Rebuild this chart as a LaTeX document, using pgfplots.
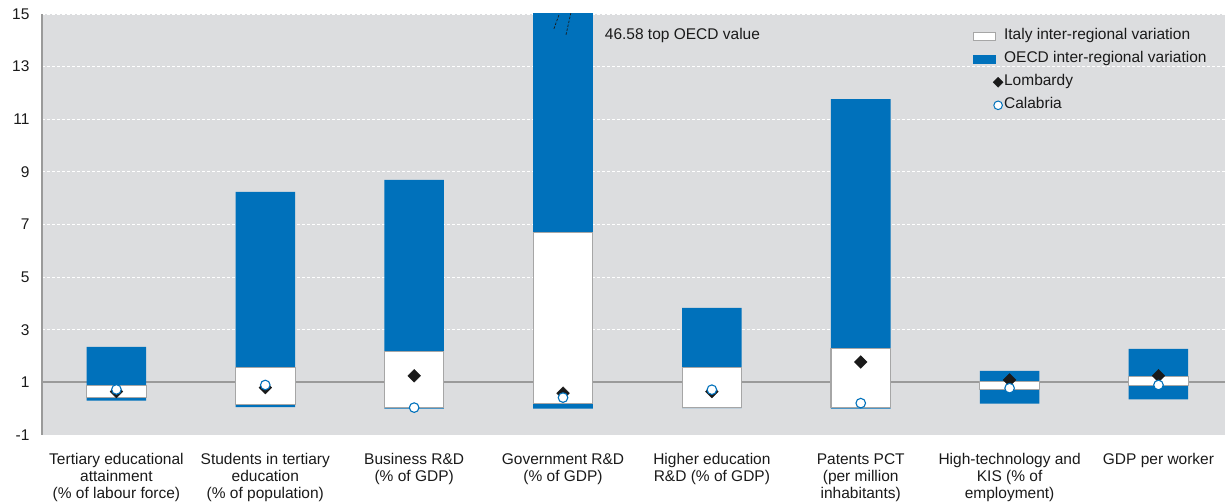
\documentclass[border=0pt]{standalone}
\usepackage{fontspec}
\setmainfont{Liberation Sans}
\usepackage{pgfplots}
\usepackage{pgfplotstable}
\pgfplotsset{compat=1.18}
\definecolor{bg}{HTML}{DCDDDF}
\definecolor{oecd}{HTML}{0071BB}
\definecolor{boxgray}{HTML}{A6A6A6}
\definecolor{refgray}{HTML}{9A9A9A}
\definecolor{txt}{HTML}{1A1A1A}

\pgfplotstableread{
x blo bhi wlo whi lom cal
0 0.31 2.35 0.44 0.88 0.65 0.73
1 0.06 8.24 0.17 1.58 0.80 0.90
2 0.00 8.70 0.04 2.16 1.25 0.04
3 -0.03 46.58 0.21 6.71 0.59 0.42
4 0.02 3.83 0.06 1.58 0.65 0.72
5 -0.02 11.74 0.06 2.30 1.77 0.21
6 0.19 1.44 0.74 1.03 1.09 0.78
7 0.35 2.27 0.88 1.22 1.25 0.90
}\data

\pgfplotsset{common/.style={width=1183bp, height=421bp, scale only axis,
  xmin=-0.5, xmax=7.447, ymin=-1, ymax=15}}
\newcommand{\lf}{\fontsize{15.5bp}{17bp}\selectfont}

\begin{document}
\begin{tikzpicture}
% axis 1: frame, grid, labels, OECD bars
\begin{axis}[common, name=main,
  axis background/.style={fill=bg},
  axis y line*=left, axis x line*=bottom,
  x axis line style={draw=none},
  y axis line style={draw=refgray, line width=1.6bp},
  ytick={-1,3,5,7,9,11,13,15},
  yticklabels={-1,3,5,7,9,11,13,15},
  extra y ticks={1}, extra y tick labels={1},
  extra y tick style={grid=major, major grid style={draw=refgray, solid, line width=1.8bp}},
  xtick={0,...,7},
  xticklabels={{Tertiary educational\\attainment\\(\% of labour force)},
    {Students in tertiary\\education\\(\% of population)},
    {Business R\&D\\(\% of GDP)},
    {Government R\&D\\(\% of GDP)},
    {Higher education\\R\&D (\% of GDP)},
    {Patents PCT\\(per million\\inhabitants)},
    {High-technology and\\KIS (\% of\\employment)},
    {GDP per worker}},
  major tick length=0pt,
  ymajorgrids,
  major grid style={draw=white, dash pattern=on 3bp off 2bp, line width=0.9bp},
  tick label style={font=\lf, text=txt},
  yticklabel style={xshift=-9bp},
  xticklabel style={align=center, anchor=north, yshift=-15bp},
  ybar stacked, bar width=0.4,
]
\addplot[draw=none, fill=none, forget plot] table[x=x, y=blo] {\data};
\addplot[fill=oecd, draw=none, forget plot] table[x=x, y expr=\thisrow{bhi}-\thisrow{blo}] {\data};
\end{axis}
% axis 2: Italy boxes
\begin{axis}[common, hide axis, ybar stacked, bar width=0.4]
\addplot[draw=none, fill=none, forget plot] table[x=x, y=wlo] {\data};
\addplot[fill=white, draw=boxgray, line width=1.1bp, forget plot] table[x=x, y expr=\thisrow{whi}-\thisrow{wlo}] {\data};
\end{axis}
% axis 3: regions, annotation, legend
\begin{axis}[common, hide axis,
  legend style={at={(rel axis cs:0.784,0.97)}, anchor=north west, draw=none, fill=none,
    font=\lf, text=txt, row sep=8bp, cells={anchor=west},
    nodes={inner sep=0pt, text height=11bp, text depth=4bp}},
  legend cell align=left,
]
\draw[txt, dash pattern=on 2.5bp off 1.5bp, line width=0.7bp] (axis cs:2.939,14.44) -- (axis cs:2.973,14.97);
\draw[txt, dash pattern=on 2.5bp off 1.5bp, line width=0.7bp] (axis cs:3.020,14.21) -- (axis cs:3.053,15.05);
\node[anchor=west, font=\lf, text=txt, inner sep=0pt] at (axis cs:3.28,14.2) {46.58 top OECD value};
\addplot[only marks, mark=square*, mark size=4.5bp, mark options={rotate=45, fill=txt, draw=txt}, forget plot] table[x=x, y=lom] {\data};
\addplot[only marks, mark=*, mark size=4.8bp, mark options={fill=white, draw=oecd, line width=1.1bp}, forget plot] table[x=x, y=cal] {\data};
\addlegendimage{legend image code/.code={\path[draw=none, fill=none] (0bp,-5bp) rectangle (31bp,5bp); \draw[fill=white, draw=boxgray, line width=0.9bp] (0bp,-4.3bp) rectangle (22bp,4.3bp);}}
\addlegendentry{Italy inter-regional variation}
\addlegendimage{legend image code/.code={\path[draw=none, fill=none] (0bp,-5bp) rectangle (31bp,5bp); \fill[oecd] (0bp,-4bp) rectangle (22bp,4bp);}}
\addlegendentry{OECD inter-regional variation}
\addlegendimage{legend image code/.code={\path[draw=none, fill=none] (0bp,-5bp) rectangle (31bp,5bp); \fill[txt] (25bp,5bp) -- (30bp,0bp) -- (25bp,-5bp) -- (20bp,0bp) -- cycle;}}
\addlegendentry{Lombardy}
\addlegendimage{legend image code/.code={\path[draw=none, fill=none] (0bp,-5bp) rectangle (31bp,5bp); \draw[fill=white, draw=oecd, line width=1bp] (25bp,0bp) circle (4.3bp);}}
\addlegendentry{Calabria}
\end{axis}
\pgfresetboundingbox
\path ([xshift=-42bp, yshift=-67bp]main.south west) rectangle ([yshift=14bp]main.north east);
\end{tikzpicture}
\end{document}
